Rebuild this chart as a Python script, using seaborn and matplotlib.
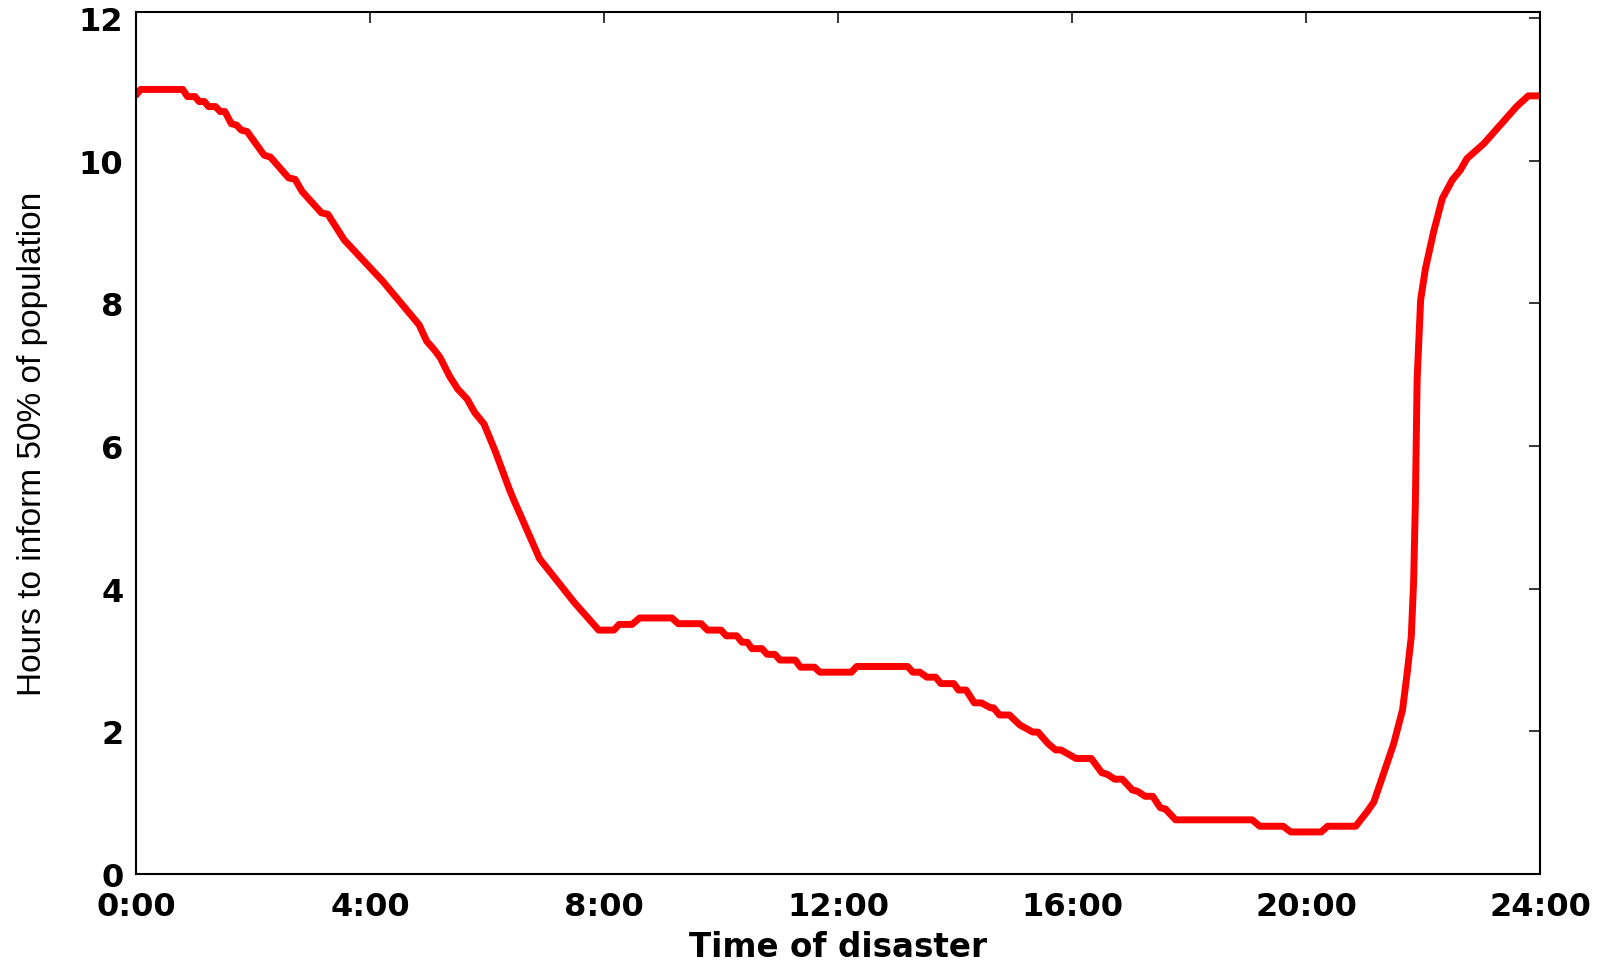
import numpy as np
import pandas as pd
import matplotlib
matplotlib.use('Agg')
import matplotlib.pyplot as plt
import seaborn as sns

# время катастрофы (часы) и время оповещения 50% населения (часы)
hours = [0.00, 0.08, 0.80, 0.88, 1.01, 1.08, 1.17, 1.24, 1.36, 1.44, 1.52, 1.63,
         1.72, 1.80, 1.90, 2.19, 2.30, 2.61, 2.72, 2.84, 3.17, 3.28, 3.56, 4.22,
         4.84, 4.97, 5.10, 5.20, 5.36, 5.50, 5.66, 5.79, 5.95, 6.15, 6.38, 6.45,
         6.90, 7.49, 7.91, 8.17, 8.26, 8.48, 8.61, 9.16, 9.27, 9.66, 9.77, 10.00,
         10.09, 10.27, 10.36, 10.45, 10.53, 10.70, 10.79, 10.92, 11.01, 11.27,
         11.36, 11.60, 11.69, 12.23, 12.32, 13.19, 13.28, 13.40, 13.52, 13.67,
         13.76, 13.98, 14.06, 14.19, 14.33, 14.45, 14.61, 14.66, 14.76, 14.93,
         15.11, 15.33, 15.42, 15.59, 15.72, 15.81, 16.07, 16.33, 16.51, 16.60,
         16.73, 16.86, 17.03, 17.12, 17.25, 17.38, 17.51, 17.60, 17.77, 19.08,
         19.21, 19.61, 19.74, 20.26, 20.37, 20.85, 21.05, 21.16, 21.36, 21.50,
         21.65, 21.73, 21.80, 21.84, 21.87, 21.90, 21.96, 22.04, 22.18, 22.33,
         22.50, 22.64, 22.75, 23.04, 23.32, 23.60, 23.80, 24.00]
inform_hours = [10.92, 11.00, 11.00, 10.90, 10.90, 10.83, 10.83, 10.76, 10.76, 10.69,
                10.69, 10.52, 10.50, 10.43, 10.41, 10.08, 10.05, 9.76, 9.74, 9.57,
                9.27, 9.25, 8.89, 8.31, 7.70, 7.47, 7.35, 7.24, 6.98, 6.80, 6.66,
                6.47, 6.31, 5.91, 5.40, 5.26, 4.42, 3.81, 3.42, 3.42, 3.50, 3.50,
                3.59, 3.59, 3.51, 3.51, 3.42, 3.42, 3.34, 3.34, 3.25, 3.25, 3.16,
                3.16, 3.08, 3.08, 3.00, 3.00, 2.90, 2.90, 2.83, 2.83, 2.91, 2.91,
                2.83, 2.83, 2.76, 2.76, 2.67, 2.67, 2.58, 2.58, 2.40, 2.40, 2.33,
                2.33, 2.23, 2.23, 2.09, 1.99, 1.99, 1.83, 1.74, 1.74, 1.62, 1.62,
                1.42, 1.40, 1.33, 1.33, 1.18, 1.16, 1.09, 1.09, 0.93, 0.91, 0.76,
                0.76, 0.67, 0.67, 0.59, 0.59, 0.67, 0.67, 0.88, 1.01, 1.49, 1.83,
                2.30, 2.82, 3.33, 4.10, 5.22, 6.94, 8.05, 8.48, 9.00, 9.47, 9.73,
                9.87, 10.03, 10.24, 10.50, 10.76, 10.91, 10.91]

xtick_pos = [0, 4, 8, 12, 16, 20, 24]
xtick_labels = ['0:00', '4:00', '8:00', '12:00', '16:00', '20:00', '24:00']
ytick_pos = [0, 2, 4, 6, 8, 10, 12]

df = pd.DataFrame({'hours': hours, 'inform': inform_hours})

sns.set_style('white')
plt.rcParams['text.color'] = 'black'
plt.rcParams['axes.labelcolor'] = 'black'
plt.rcParams['xtick.color'] = 'black'
plt.rcParams['ytick.color'] = 'black'

fig = plt.figure(figsize=(16.07, 9.62), dpi=100)
ax = fig.add_axes([0.0846, 0.0904, 0.8737, 0.8964])

sns.lineplot(data=df, x='hours', y='inform', sort=False, color='#ff0000',
             linewidth=5.0, ax=ax)

ax.set_xlim(0, 24)
ax.set_ylim(0, 12.09)
ax.set_xticks(xtick_pos)
ax.set_xticklabels(xtick_labels)
ax.set_yticks(ytick_pos)

for sp in ax.spines.values():
    sp.set_color('black')
    sp.set_linewidth(1.5)

ax.tick_params(axis='both', direction='in', length=8, width=1.1, colors='black',
               top=True, right=True, labelsize=23)
ax.tick_params(axis='x', pad=12)
ax.tick_params(axis='y', pad=9)
for lab in ax.get_xticklabels() + ax.get_yticklabels():
    lab.set_fontfamily('DejaVu Sans')
    lab.set_fontweight('bold')
    lab.set_color('black')

ax.set_xlabel('Time of disaster', fontfamily='DejaVu Sans', fontweight='bold',
              fontsize=23.5, labelpad=6, color='black')
ax.set_ylabel('Hours to inform 50% of population', fontfamily='Liberation Sans',
              fontsize=24, labelpad=22, color='black')

fig.savefig('out.png', dpi=100)
